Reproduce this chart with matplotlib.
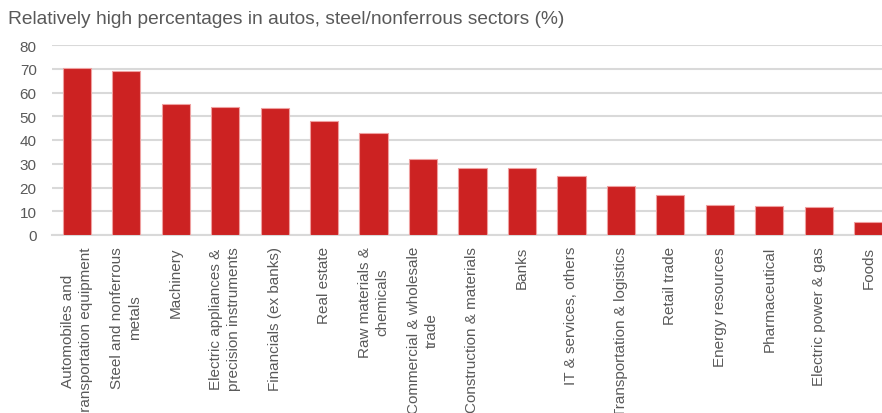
import matplotlib
matplotlib.use("Agg")
import matplotlib.pyplot as plt
from matplotlib import font_manager

categories = [
    "Automobiles and\ntransportation equipment",
    "Steel and nonferrous\nmetals",
    "Machinery",
    "Electric appliances &\nprecision instruments",
    "Financials (ex banks)",
    "Real estate",
    "Raw materials &\nchemicals",
    "Commercial & wholesale\ntrade",
    "Construction & materials",
    "Banks",
    "IT & services, others",
    "Transportation & logistics",
    "Retail trade",
    "Energy resources",
    "Pharmaceutical",
    "Electric power & gas",
    "Foods",
]
values = [70.2, 68.9, 55.2, 53.8, 53.5, 48.0, 42.9, 31.9, 28.3, 28.1, 24.8, 20.8, 16.7, 12.5, 12.2, 11.7, 5.3]
yticks = [0, 10, 20, 30, 40, 50, 60, 70, 80]
title = "Relatively high percentages in autos, steel/nonferrous sectors (%)"

names = {f.name for f in font_manager.fontManager.ttflist}
narrow = "Liberation Sans Narrow" in names
fam = "Liberation Sans Narrow" if narrow else "Liberation Sans"
plt.rcParams["font.family"] = [fam, "DejaVu Sans"]
title_fs = 16 if narrow else 13.8
tick_fs = 13 if narrow else 11

txt = "#595959"
fig = plt.figure(figsize=(8.82, 4.14), dpi=100)
ax = fig.add_axes([52 / 882, 1 - 236 / 414, (893 - 52) / 882, 190 / 414])

x = list(range(len(categories)))
ax.bar(x, values, width=0.57, color="#CC2222", edgecolor="#EFA0A0", linewidth=0.8, zorder=3)
ax.set_xlim(-0.5, len(categories) - 0.5)
ax.set_ylim(0, 80)
ax.set_yticks(yticks)
ax.set_yticklabels([str(v) for v in yticks], fontsize=tick_fs, color=txt)
ax.yaxis.grid(True, color="#D9D9D9", linewidth=1.5, zorder=0)
ax.set_axisbelow(True)
for s in ["top", "right", "left"]:
    ax.spines[s].set_visible(False)
ax.spines["bottom"].set_color("#D9D9D9")
ax.spines["bottom"].set_linewidth(1.5)
ax.tick_params(axis="both", length=0)
ax.tick_params(axis="y", pad=11)
ax.tick_params(axis="x", pad=8)
ax.set_xticks(x)
ax.set_xticklabels(categories, rotation=90, fontsize=tick_fs, color=txt, ha="center", va="top",
                   multialignment="center", linespacing=1.35)

fig.text(8 / 882, 1 - 20 / 414, title, fontsize=title_fs, color=txt, ha="left", va="center")

fig.savefig("out.png", dpi=100)
